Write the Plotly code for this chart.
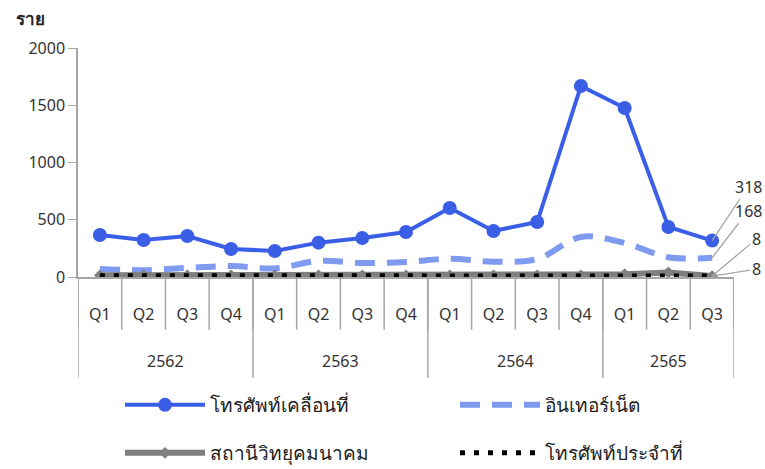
import plotly.graph_objects as go

years = ["2562", "2563", "2564", "2565"]
year_quarters = [["Q1", "Q2", "Q3", "Q4"], ["Q1", "Q2", "Q3", "Q4"],
                 ["Q1", "Q2", "Q3", "Q4"], ["Q1", "Q2", "Q3"]]

mobile = [367, 323, 358, 245, 227, 300, 341, 393, 603, 402, 480, 1668, 1476, 437, 318]
internet = [70, 60, 80, 95, 75, 140, 122, 131, 160, 134, 157, 350, 297, 172, 168]
radio = [15, 15, 15, 15, 15, 15, 15, 15, 15, 15, 15, 15, 25, 40, 8]
fixed = [12, 10, 10, 10, 10, 10, 10, 10, 10, 10, 10, 10, 10, 10, 8]

names = ["โทรศัพท์เคลื่อนที่", "อินเทอร์เน็ต", "สถานีวิทยุคมนาคม", "โทรศัพท์ประจำที่"]
end_labels = ["318", "168", "8", "8"]

keys, qlabels, groups = [], [], []
for y, qs in zip(years, year_quarters):
    g = []
    for q in qs:
        g.append(len(keys))
        keys.append(f"{y} {q}")
        qlabels.append(q)
    groups.append(g)

FONT = "Tahoma, 'Noto Sans', 'DejaVu Sans', sans-serif"
fig = go.Figure()
fig.add_trace(go.Scatter(x=keys, y=mobile, name=names[0], mode="lines+markers",
                         line=dict(color="#3A5FE6", width=4),
                         marker=dict(size=14, color="#3A5FE6"), legend="legend"))
fig.add_trace(go.Scatter(x=keys, y=internet, name=names[1], mode="lines",
                         line=dict(color="#7F9BF0", width=6, dash="20px,12px", shape="spline"),
                         legend="legend2"))
fig.add_trace(go.Scatter(x=keys, y=radio, name=names[2], mode="lines+markers",
                         line=dict(color="#7F7F7F", width=6),
                         marker=dict(symbol="diamond", size=9, color="#7F7F7F"), legend="legend3"))
fig.add_trace(go.Scatter(x=keys, y=fixed, name=names[3], mode="lines",
                         line=dict(color="#000000", width=5, dash="5px,9px"), legend="legend4"))

series = [mobile, internet, radio, fixed]
offsets = [(36, -54), (36, -47), (44, -37), (44, -7)]
for s, lab, (ax, ay) in zip(series, end_labels, offsets):
    fig.add_annotation(x=keys[-1], y=s[-1], xref="x", yref="y", text=lab,
                       showarrow=True, arrowhead=0, arrowwidth=1.3, arrowcolor="#A6A6A6",
                       ax=ax, ay=ay, standoff=0, font=dict(size=16, color="#333333"))

# year labels
for y, g in zip(years, groups):
    fig.add_annotation(x=sum(g) / len(g), y=-0.365, xref="x", yref="paper", text=y,
                       xanchor="center", yanchor="middle",
                       showarrow=False, font=dict(size=16, color="#333333"))

# separators
shapes = []
n = len(keys)
for i in range(n + 1):
    shapes.append(dict(type="line", xref="x", yref="paper", x0=i - 0.5, x1=i - 0.5,
                       y0=0, y1=-0.23, line=dict(color="#A6A6A6", width=1.5)))
start = 0
for g in groups + [[]]:
    shapes.append(dict(type="line", xref="x", yref="paper", x0=start - 0.5, x1=start - 0.5,
                       y0=0, y1=-0.44, line=dict(color="#A6A6A6", width=1.5)))
    start += len(g)

fig.add_annotation(x=-0.072, y=1.13, xref="paper", yref="paper", text="<b>ราย</b>",
                   xanchor="center", yanchor="middle",
                   showarrow=False, font=dict(size=17, color="#222222"))

def leg(x, y):
    return dict(orientation="h", x=x, y=y, yanchor="middle", xanchor="left",
                xref="container", yref="container", itemwidth=80,
                font=dict(size=19, color="#222222"), bgcolor="rgba(0,0,0,0)")

fig.update_layout(
    width=765, height=469,
    margin=dict(l=78, r=31, t=48, b=192, autoexpand=False),
    plot_bgcolor="white", paper_bgcolor="white",
    font=dict(family=FONT, size=16, color="#333333"),
    shapes=shapes,
    showlegend=True,
    legend=leg(120 / 765, 1 - 405 / 469),
    legend2=leg(455 / 765, 1 - 405 / 469),
    legend3=leg(120 / 765, 1 - 453 / 469),
    legend4=leg(455 / 765, 1 - 453 / 469),
    xaxis=dict(type="category", range=[-0.5, n - 0.5], tickvals=keys, ticktext=qlabels,
               showline=True, linecolor="#A6A6A6", linewidth=1.5, ticks="",
               showgrid=False, zeroline=False, ticklabelstandoff=22, automargin=False,
               tickfont=dict(size=16, color="#333333")),
    yaxis=dict(range=[0, 2000], tickvals=[0, 500, 1000, 1500, 2000],
               showline=True, linecolor="#A6A6A6", linewidth=1.5, ticks="outside",
               ticklen=8, tickcolor="#A6A6A6", showgrid=False, zeroline=False,
               automargin=False, tickfont=dict(size=16, color="#333333")),
)

fig.write_html("out.html", config={"displayModeBar": False},
               post_script="document.body.style.margin='0px';")
